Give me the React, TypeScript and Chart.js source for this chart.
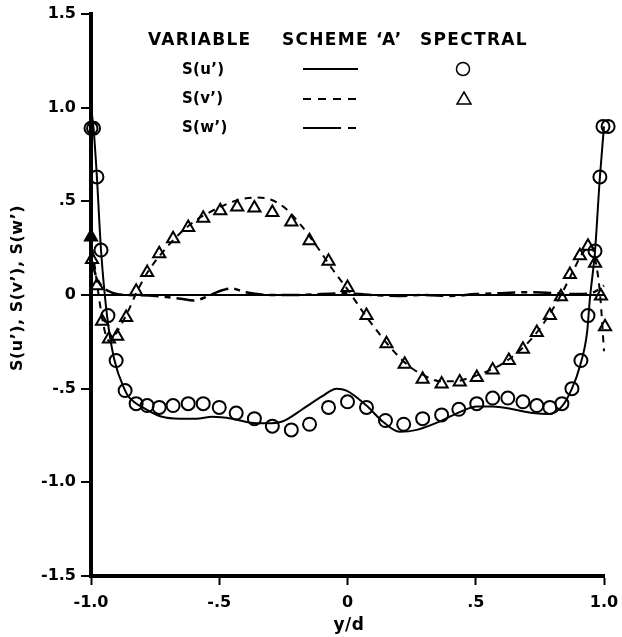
import React, { useEffect, useRef } from 'react';
import { Chart, registerables } from 'chart.js';
Chart.register(...registerables);

// ---- data ----
const xTickValues = [-1, -0.5, 0, 0.5, 1];
const xTickLabels = ['-1.0', '-.5', '0', '.5', '1.0'];
const yTickValues = [-1.5, -1, -0.5, 0, 0.5, 1, 1.5];
const yTickLabels = ['-1.5', '-1.0', '-.5', '0', '.5', '1.0', '1.5'];

// Scheme 'A' S(u') (solid)
const uSchemeX = [-1.0, -0.99, -0.977, -0.961, -0.9375, -0.91, -0.867, -0.852, -0.785, -0.723, -0.656, -0.59, -0.527, -0.45, -0.383, -0.316, -0.254, -0.176, -0.098, -0.043, -0.004, 0.074, 0.137, 0.203, 0.27, 0.36, 0.4375, 0.504, 0.566, 0.645, 0.723, 0.789, 0.836, 0.875, 0.906, 0.934, 0.945, 0.965, 0.984, 1.0];
const uSchemeY = [1.0, 0.89, 0.63, 0.24, -0.11, -0.34, -0.51, -0.545, -0.61, -0.65, -0.66, -0.66, -0.65, -0.66, -0.68, -0.685, -0.675, -0.61, -0.54, -0.5, -0.51, -0.59, -0.675, -0.73, -0.72, -0.675, -0.625, -0.595, -0.595, -0.61, -0.63, -0.635, -0.595, -0.5, -0.38, -0.2, -0.02, 0.235, 0.63, 0.9];

// Scheme 'A' S(v') (short dash)
const vSchemeX = [-1.0, -0.985, -0.965, -0.945, -0.925, -0.9, -0.86, -0.82, -0.78, -0.72, -0.66, -0.6, -0.54, -0.48, -0.42, -0.36, -0.3, -0.24, -0.18, -0.12, -0.06, 0.0, 0.06, 0.12, 0.18, 0.24, 0.3, 0.36, 0.42, 0.48, 0.54, 0.6, 0.66, 0.72, 0.78, 0.84, 0.88, 0.92, 0.95, 0.97, 0.985, 1.0];
const vSchemeY = [0.31, 0.15, -0.05, -0.2, -0.25, -0.2, -0.1, 0.02, 0.12, 0.23, 0.32, 0.39, 0.44, 0.48, 0.51, 0.52, 0.51, 0.46, 0.37, 0.26, 0.14, 0.03, -0.09, -0.2, -0.3, -0.38, -0.43, -0.46, -0.46, -0.44, -0.41, -0.37, -0.31, -0.23, -0.12, 0.02, 0.13, 0.23, 0.26, 0.16, 0.0, -0.3];

// Scheme 'A' S(w') (long-short dash)
const wSchemeX = [-1.0, -0.98, -0.96, -0.93, -0.9, -0.85, -0.75, -0.65, -0.6, -0.55, -0.5, -0.45, -0.4, -0.3, -0.2, -0.1, 0.0, 0.05, 0.1, 0.2, 0.3, 0.4, 0.5, 0.6, 0.7, 0.8, 0.85, 0.9, 0.95, 0.98, 1.0];
const wSchemeY = [0.2, 0.1, 0.05, 0.02, 0.005, 0.0, -0.005, -0.02, -0.03, -0.01, 0.02, 0.035, 0.015, 0.0, 0.0, 0.005, 0.01, 0.005, 0.0, -0.005, 0.0, -0.005, 0.005, 0.01, 0.015, 0.01, 0.005, 0.005, 0.01, 0.03, 0.05];

// Spectral S(u') (circles)
const uSpecX = [-1.0, -0.99, -0.977, -0.961, -0.934, -0.902, -0.867, -0.824, -0.781, -0.734, -0.68, -0.621, -0.5625, -0.5, -0.434, -0.363, -0.293, -0.219, -0.148, -0.074, 0.0, 0.074, 0.148, 0.219, 0.293, 0.367, 0.434, 0.504, 0.566, 0.625, 0.684, 0.738, 0.789, 0.836, 0.875, 0.91, 0.9375, 0.965, 0.984, 0.996, 1.016];
const uSpecY = [0.89, 0.89, 0.63, 0.24, -0.11, -0.35, -0.51, -0.58, -0.59, -0.6, -0.59, -0.58, -0.58, -0.6, -0.63, -0.66, -0.7, -0.72, -0.69, -0.6, -0.57, -0.6, -0.67, -0.69, -0.66, -0.64, -0.61, -0.58, -0.55, -0.55, -0.57, -0.59, -0.6, -0.58, -0.5, -0.35, -0.11, 0.235, 0.63, 0.9, 0.9];

// Spectral S(v') (triangles)
const vSpecX = [-1.0, -0.996, -0.977, -0.957, -0.93, -0.898, -0.863, -0.824, -0.781, -0.734, -0.68, -0.621, -0.5625, -0.496, -0.43, -0.363, -0.293, -0.219, -0.148, -0.074, 0.0, 0.074, 0.152, 0.223, 0.293, 0.367, 0.4375, 0.504, 0.566, 0.629, 0.684, 0.738, 0.789, 0.832, 0.867, 0.906, 0.9375, 0.965, 0.988, 1.004, 1.016];
const vSpecY = [0.31, 0.19, 0.05, -0.14, -0.235, -0.22, -0.12, 0.02, 0.12, 0.22, 0.3, 0.36, 0.41, 0.45, 0.47, 0.465, 0.44, 0.39, 0.29, 0.18, 0.04, -0.11, -0.26, -0.37, -0.45, -0.475, -0.465, -0.44, -0.4, -0.35, -0.29, -0.2, -0.11, -0.01, 0.11, 0.21, 0.26, 0.17, -0.005, -0.17, -0.29];
const vSpecFilled = [true, false, false, false, false, false, false, false, false, false, false, false, false, false, false, false, false, false, false, false, false, false, false, false, false, false, false, false, false, false, false, false, false, false, false, false, false, false, false, false, true];

const zip = (xs: number[], ys: number[]) => xs.map((x, i) => ({ x, y: ys[i] }));

const FONT = '"DejaVu Sans", "Liberation Sans", sans-serif';

const legendPlugin = {
  id: 'legendText',
  afterDraw(chart: any) {
    const ctx = chart.ctx as any;
    ctx.save();
    ctx.fillStyle = '#000';
    ctx.strokeStyle = '#000';
    ctx.textBaseline = 'middle';
    ctx.textAlign = 'left';
    ctx.letterSpacing = '1.3px';
    ctx.font = `bold 17px ${FONT}`;
    ctx.fillText('VARIABLE', 148, 41);
    ctx.fillText('SCHEME ‘A’', 282, 41);
    ctx.fillText('SPECTRAL', 420, 41);
    ctx.letterSpacing = '0.3px';
    ctx.font = `bold 15px ${FONT}`;
    ctx.fillText('S(u’)', 182, 70);
    ctx.fillText('S(v’)', 182, 99);
    ctx.fillText('S(w’)', 182, 128);
    // axis titles
    ctx.letterSpacing = '0.5px';
    ctx.textAlign = 'center';
    ctx.font = `bold 17px ${FONT}`;
    ctx.fillText('y/d', 349, 626);
    ctx.save();
    ctx.translate(18, 288);
    ctx.rotate(-Math.PI / 2);
    ctx.font = `bold 16px ${FONT}`;
    ctx.fillText('S(u’), S(v’), S(w’)', 0, 0);
    ctx.restore();
    ctx.letterSpacing = '0px';
    // line samples
    ctx.lineWidth = 2;
    ctx.beginPath();
    ctx.setLineDash([]);
    ctx.moveTo(303, 69); ctx.lineTo(358, 69); ctx.stroke();
    ctx.beginPath();
    ctx.setLineDash([8, 7]);
    ctx.moveTo(303, 99); ctx.lineTo(358, 99); ctx.stroke();
    ctx.beginPath();
    ctx.setLineDash([38, 7, 8, 100]);
    ctx.moveTo(303, 128); ctx.lineTo(358, 128); ctx.stroke();
    ctx.setLineDash([]);
    // symbols
    ctx.lineWidth = 1.5;
    ctx.beginPath();
    ctx.arc(463, 69, 6.5, 0, Math.PI * 2);
    ctx.stroke();
    ctx.beginPath();
    ctx.moveTo(464, 92); ctx.lineTo(471, 104); ctx.lineTo(457, 104); ctx.closePath();
    ctx.stroke();
    ctx.restore();
  },
};

export default function App() {
  const ref = useRef<HTMLCanvasElement | null>(null);
  useEffect(() => {
    if (!ref.current) return;
    const chart = new Chart(ref.current, {
      type: 'scatter',
      data: {
        datasets: [
          {
            label: 'S(u) scheme A',
            data: zip(uSchemeX, uSchemeY),
            showLine: true,
            borderColor: '#000',
            borderWidth: 2,
            pointRadius: 0,
            cubicInterpolationMode: 'monotone',
            clip: false,
          } as any,
          {
            label: 'S(v) scheme A',
            data: zip(vSchemeX, vSchemeY),
            showLine: true,
            borderColor: '#000',
            borderWidth: 2,
            borderDash: [7, 6],
            pointRadius: 0,
            cubicInterpolationMode: 'monotone',
            clip: false,
          } as any,
          {
            label: 'S(w) scheme A',
            data: zip(wSchemeX, wSchemeY),
            showLine: true,
            borderColor: '#000',
            borderWidth: 2.5,
            borderDash: [18, 6, 6, 6],
            pointRadius: 0,
            cubicInterpolationMode: 'monotone',
            clip: false,
          } as any,
          {
            label: 'S(u) spectral',
            data: zip(uSpecX, uSpecY),
            showLine: false,
            pointStyle: 'circle',
            pointRadius: 6.5,
            pointBorderWidth: 2,
            pointBorderColor: '#000',
            pointBackgroundColor: 'rgba(0,0,0,0)',
            clip: false,
          } as any,
          {
            label: 'S(v) spectral',
            data: zip(vSpecX, vSpecY),
            showLine: false,
            pointStyle: 'triangle',
            pointRadius: 7,
            pointBorderWidth: 2,
            pointBorderColor: '#000',
            pointBackgroundColor: vSpecFilled.map((f) => (f ? '#000' : 'rgba(0,0,0,0)')),
            clip: false,
          } as any,
        ],
      },
      options: {
        animation: false,
        responsive: false,
        maintainAspectRatio: false,
        events: [],
        layout: { padding: { left: 0, top: 14, right: 18, bottom: 0 } },
        plugins: { legend: { display: false }, tooltip: { enabled: false }, title: { display: false } },
        scales: {
          x: {
            type: 'linear',
            min: -1,
            max: 1,
            afterBuildTicks: (s: any) => { s.ticks = xTickValues.map((v) => ({ value: v })); },
            afterFit: (s: any) => { s.height = 61; s.paddingLeft = 0; s.paddingRight = 0; },
            ticks: {
              color: '#000',
              font: { family: FONT, size: 16, weight: 'bold' },
              padding: 8,
              maxRotation: 0,
              autoSkip: false,
              callback: (_v: any, i: number) => xTickLabels[i],
            },
            grid: { drawOnChartArea: false, drawTicks: true, tickLength: 9, tickColor: '#000', tickWidth: 2 },
            border: { display: true, color: '#000', width: 4 },
            title: { display: false },
          },
          y: {
            type: 'linear',
            min: -1.5,
            max: 1.5,
            afterBuildTicks: (s: any) => { s.ticks = yTickValues.map((v) => ({ value: v })); },
            afterFit: (s: any) => { s.width = 91; s.paddingTop = 0; s.paddingBottom = 0; },
            ticks: {
              color: '#000',
              font: { family: FONT, size: 16, weight: 'bold' },
              padding: 5,
              autoSkip: false,
              callback: (_v: any, i: number) => yTickLabels[i],
            },
            grid: {
              drawOnChartArea: true,
              drawTicks: true,
              tickLength: 10,
              tickColor: '#000',
              tickWidth: 2,
              lineWidth: 2,
              color: (c: any) => (c.tick && c.tick.value === 0 ? '#000' : 'rgba(0,0,0,0)'),
            },
            border: { display: true, color: '#000', width: 4 },
            title: { display: false },
          },
        },
      } as any,
      plugins: [legendPlugin],
    });
    return () => chart.destroy();
  }, []);
  return (
    <div style={{ position: 'fixed', left: 0, top: 0, width: 622, height: 637, background: '#fff' }}>
      <canvas ref={ref} width={622} height={637} style={{ display: 'block' }} />
    </div>
  );
}
